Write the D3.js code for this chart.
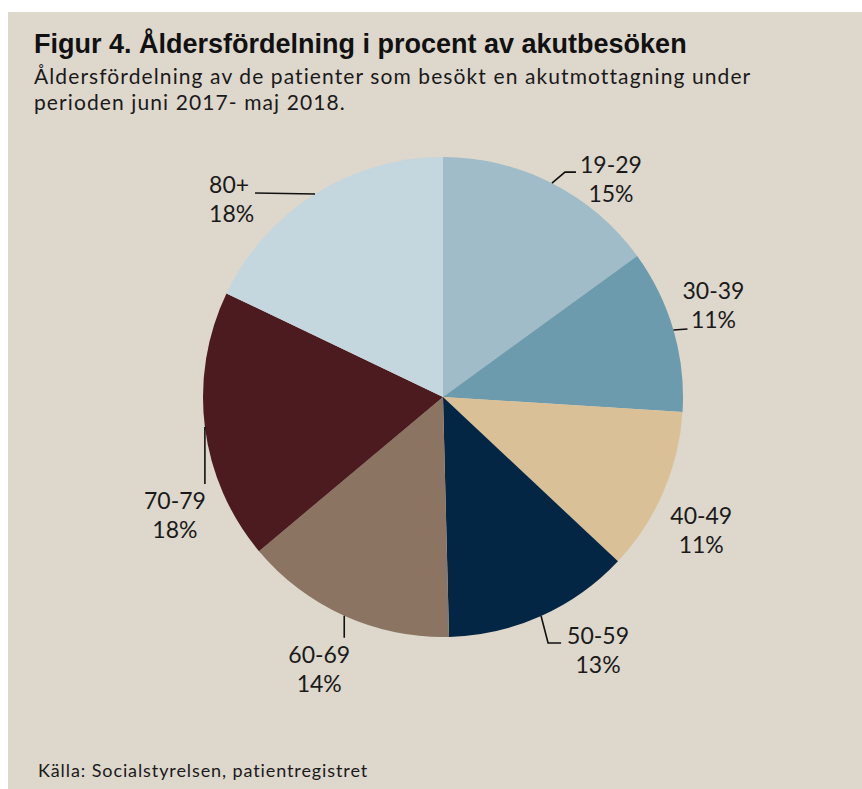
<!DOCTYPE html>
<html>
<head>
<meta charset="utf-8">
<script src="https://cdn.jsdelivr.net/npm/d3@7"></script>
<style>
  body { margin: 0; background: #ffffff; }
  svg { display: block; }
</style>
</head>
<body>
<div id="chart"></div>
<script>
// chart data
const ageGroups = ["19-29", "30-39", "40-49", "50-59", "60-69", "70-79", "80+"];
const shares = [15, 11, 11, 12.6, 14.3, 18.2, 17.9];
const sliceColors = ["#9fbcc8", "#6b9bad", "#dac096", "#022643", "#8b7462", "#4b1b1f", "#c4d6de"];

// label layout, offsets from the slice midpoint on the pie edge
const labelLayout = [
	{ leader: [[13, -11], [24, -11]], text: [59, -10], anchor: "middle" },
	{ leader: [[14, -1]], text: [40, -31], anchor: "middle" },
	{ leader: [], text: [38, 32], anchor: "middle" },
	{ leader: [[7, 27], [20, 27]], text: [57, 28], anchor: "middle" },
	{ leader: [[0, 22]], text: [-25, 47], anchor: "middle" },
	{ leader: [[0, 57]], text: [-30, 82], anchor: "middle" },
	{ leader: [[-60, -1]], text: [-106, -1], anchor: "start" }
];

const width = 862, height = 789;
const cx = 443, cy = 397, radius = 240;
const textFont = "Lato, 'Open Sans', sans-serif";

const svg = d3.select("#chart").append("svg")
	.attr("width", width)
	.attr("height", height);

// panel background
svg.append("rect")
	.attr("x", 8).attr("y", 12)
	.attr("width", width - 8).attr("height", height - 12)
	.attr("fill", "#ddd7cc");

// header
svg.append("text")
	.attr("x", 34).attr("y", 53)
	.attr("font-family", "'Liberation Sans', Arial, sans-serif")
	.attr("font-weight", "bold")
	.attr("font-size", 27)
	.attr("fill", "#111")
	.text("Figur 4. Åldersfördelning i procent av akutbesöken");

const sub = svg.append("text")
	.attr("font-family", textFont)
	.attr("font-size", 21)
	.attr("letter-spacing", 1.1)
	.attr("fill", "#1a1a1a");
sub.append("tspan").attr("x", 34).attr("y", 84)
	.text("Åldersfördelning av de patienter som besökt en akutmottagning under");
sub.append("tspan").attr("x", 34).attr("y", 110)
	.text("perioden juni 2017- maj 2018.");

// pie
const pie = d3.pie().sort(null).value(d => d);
const arcs = pie(shares);
const arc = d3.arc().innerRadius(0).outerRadius(radius);
const edgeArc = d3.arc().innerRadius(radius).outerRadius(radius);

const g = svg.append("g").attr("transform", `translate(${cx},${cy})`);

g.selectAll("path.slice")
	.data(arcs)
	.join("path")
	.attr("class", "slice")
	.attr("d", arc)
	.attr("fill", (d, i) => sliceColors[i]);

// labels with leader lines
arcs.forEach((d, i) => {
	const [ex, ey] = edgeArc.centroid(d);
	const lay = labelLayout[i];
	if (lay.leader.length) {
		const pts = [[ex, ey]].concat(lay.leader.map(p => [ex + p[0], ey + p[1]]));
		g.append("path")
			.attr("d", d3.line()(pts))
			.attr("fill", "none")
			.attr("stroke", "#111")
			.attr("stroke-width", 1.6);
	}
	const t = g.append("text")
		.attr("font-family", textFont)
		.attr("font-size", 23)
		.attr("fill", "#1a1a1a")
		.attr("text-anchor", lay.anchor);
	const tx = ex + lay.text[0], ty = ey + lay.text[1];
	t.append("tspan").attr("x", tx).attr("y", ty).text(ageGroups[i]);
	t.append("tspan").attr("x", tx).attr("y", ty + 29).text(Math.round(d.data) + "%");
});

// source
svg.append("text")
	.attr("x", 38).attr("y", 777)
	.attr("font-family", textFont)
	.attr("font-size", 18)
	.attr("letter-spacing", 0.9)
	.attr("fill", "#1a1a1a")
	.text("Källa: Socialstyrelsen, patientregistret");
</script>
</body>
</html>
